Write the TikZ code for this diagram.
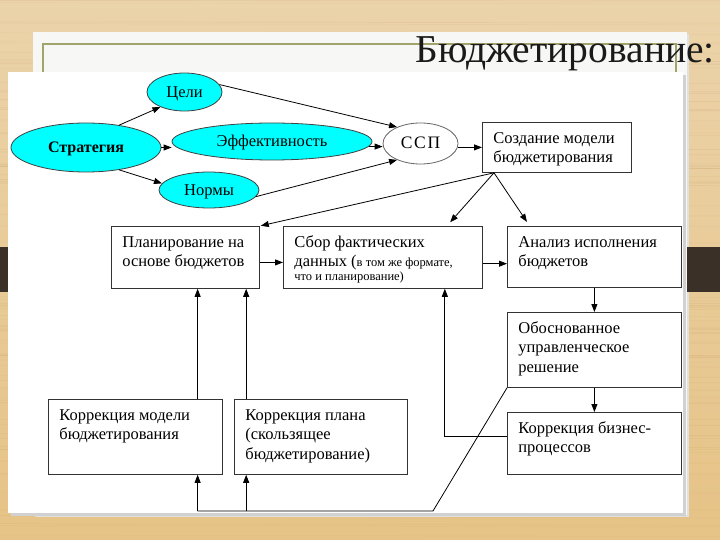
\documentclass[tikz,border=0pt]{standalone}
\usepackage{fontspec}
\setmainfont{Liberation Serif}
\usetikzlibrary{shapes.geometric,arrows.meta,calc}

\definecolor{woodtop}{HTML}{EBD3AA}
\definecolor{woodbot}{HTML}{E6C386}
\definecolor{grain}{HTML}{B98E55}
\definecolor{band}{HTML}{3B3027}
\definecolor{panel}{HTML}{F7F7F5}
\definecolor{frameline}{HTML}{A1A56C}
\definecolor{aqua}{HTML}{00FFFF}
\definecolor{ink}{HTML}{1A1A1A}

% text of a box: fixed width and height, top aligned, first baseline 21bp below the top
\newcommand\boxtext[3]{\parbox[t][#2][t]{#1}{\raggedright\fontsize{16.5bp}{19.5bp}\selectfont\rule{0pt}{21bp}#3}}
\newcommand\smallt{\fontsize{12.5bp}{14bp}\selectfont}

\tikzset{
  oval/.style={ellipse, draw=black!75, line width=0.8bp, fill=aqua, inner sep=0pt,
    text height=11bp, text depth=0bp,
    font=\fontsize{16.5bp}{18bp}\selectfont},
  card/.style={rectangle, draw=black!80, line width=0.8bp, fill=white,
    inner xsep=11bp, inner ysep=0pt, anchor=north west},
  link/.style={draw=black, line width=0.8bp, -{Triangle[length=8bp,width=6bp]}},
  wire/.style={draw=black, line width=0.8bp}
}

\begin{document}
\begin{tikzpicture}[x=1bp, y=-1bp]
\useasboundingbox (0,0) rectangle (720,540);

% wooden backdrop with a few grain streaks
\shade[top color=woodtop, bottom color=woodbot] (0,0) rectangle (720,540);
\pgfmathsetseed{11}
\foreach \i in {1,...,90}{
  \pgfmathsetmacro\yy{rnd*540}
  \pgfmathsetmacro\op{0.05+0.10*rnd}
  \draw[grain, opacity=\op, line width=0.7bp] (0,\yy) -- (720,\yy+rnd*3);
}
\fill[band] (0,247) rectangle (720,292);

% slide panel, its frame and the heading
\fill[black!12] (35,34) rectangle (689,517);
\fill[panel] (33,32) rectangle (687,515);
\draw[frameline, line width=1.3bp] (43,44) rectangle (676,300);
\fill[band] (687,247) rectangle (720,292);
\node[anchor=base east, inner sep=0pt, text=ink, font=\fontsize{39.5bp}{41bp}\selectfont]
  (title) at (715,63) {Бюджетирование:};

% white sheet carrying the scheme
\fill[black!18] (11,75) rectangle (686,516);
\fill[white] (8,72) rectangle (683,513);

% ovals
\node[oval, minimum width=150bp, minimum height=49bp,
  font=\bfseries\fontsize{16bp}{18bp}\selectfont] (strat) at (86,147.5) {Стратегия};
\node[oval, minimum width=75bp, minimum height=38bp] (goals) at (184.5,92) {Цели};
\node[oval, minimum width=200bp, minimum height=37bp] (eff) at (272,141.5) {Эффективность};
\node[oval, minimum width=100bp, minimum height=36bp] (norms) at (209,190) {Нормы};
\node[oval, fill=white, draw=black!60, minimum width=75bp, minimum height=41bp]
  (bsc) at (420.5,143.5) {\addfontfeatures{LetterSpace=10}\fontsize{17.5bp}{19bp}\selectfont ССП};

% boxes
\node[card] (model) at (482,122) {\boxtext{127bp}{50bp}{Создание модели\\бюджетирования}};
\node[card] (plan) at (111,226) {\boxtext{126bp}{62bp}{Планирование на\\основе бюджетов}};
\node[card] (fact) at (283,226) {\boxtext{177bp}{62bp}{Сбор фактических\\данных ({\smallt в том же формате,}\\[-5.5bp]{\smallt что и планирование)}}};
\node[card] (anal) at (507,226) {\boxtext{152bp}{61bp}{Анализ исполнения\\бюджетов}};
\node[card] (dec) at (507,312) {\boxtext{152bp}{75bp}{Обоснованное\\управленческое\\решение}};
\node[card] (proc) at (507,412) {\boxtext{152bp}{62bp}{Коррекция бизнес-\\процессов}};
\node[card] (cmod) at (48,399) {\boxtext{152bp}{75bp}{Коррекция модели\\бюджетирования}};
\node[card] (cplan) at (234,399) {\boxtext{151bp}{75bp}{Коррекция плана\\(скользящее\\бюджетирование)}};

% strategy and its derivatives
\draw[link] (strat.34) -- (goals.212);
\draw[link] (strat.east) -- (strat.east -| eff.west);
\draw[link] (strat.-34) -- (norms.172);
\draw[link] (goals.12) -- (bsc.145);
\draw[link] (eff.-3) -- (eff.-3 -| bsc.west);
\draw[link] (norms.-8) -- (bsc.215);
\draw[link] (bsc.east |- model.west) -- (model.west);

% model feeds the three working blocks
\coordinate (mfoot) at ($(model.south west)!0.08!(model.south east)$);
\draw[link, shorten >=1bp] (mfoot) -- (plan.north east);
\draw[link, shorten >=5bp] (mfoot) -- ($(fact.north west)!0.82!(fact.north east)$);
\draw[link, shorten >=5bp] (mfoot) -- ($(anal.north west)!0.13!(anal.north east)$);

% main cycle
\coordinate (planR) at ($(plan.north east)!0.58!(plan.south east)$);
\draw[link] (planR) -- (planR -| fact.west);
\coordinate (factR) at ($(fact.north east)!0.6!(fact.south east)$);
\draw[link] (factR) -- (factR -| anal.west);
\draw[link] (anal.south) -- (dec.north);
\draw[link] (dec.south) -- (proc.north);
\coordinate (procW) at ($(proc.north west)!0.39!(proc.south west)$);
\coordinate (factS) at ($(fact.south west)!0.81!(fact.south east)$);
\draw[link] (procW) -| (factS);

% feedback through the corrections
\coordinate (cmodS) at ($(cmod.south west)!0.856!(cmod.south east)$);
\coordinate (cplanS) at ($(cplan.south west)!0.07!(cplan.south east)$);
\coordinate (kink) at (433,511);
\draw[wire] (dec.south west) -- (kink) -- (kink -| cmodS);
\draw[link] (kink -| cmodS) -- (cmodS);
\draw[link] (kink -| cplanS) -- (cplanS);
\draw[link] (cmodS |- cmod.north) -- (cmodS |- plan.south);
\draw[link] (cplanS |- cplan.north) -- (cplanS |- plan.south);
\end{tikzpicture}
\end{document}
